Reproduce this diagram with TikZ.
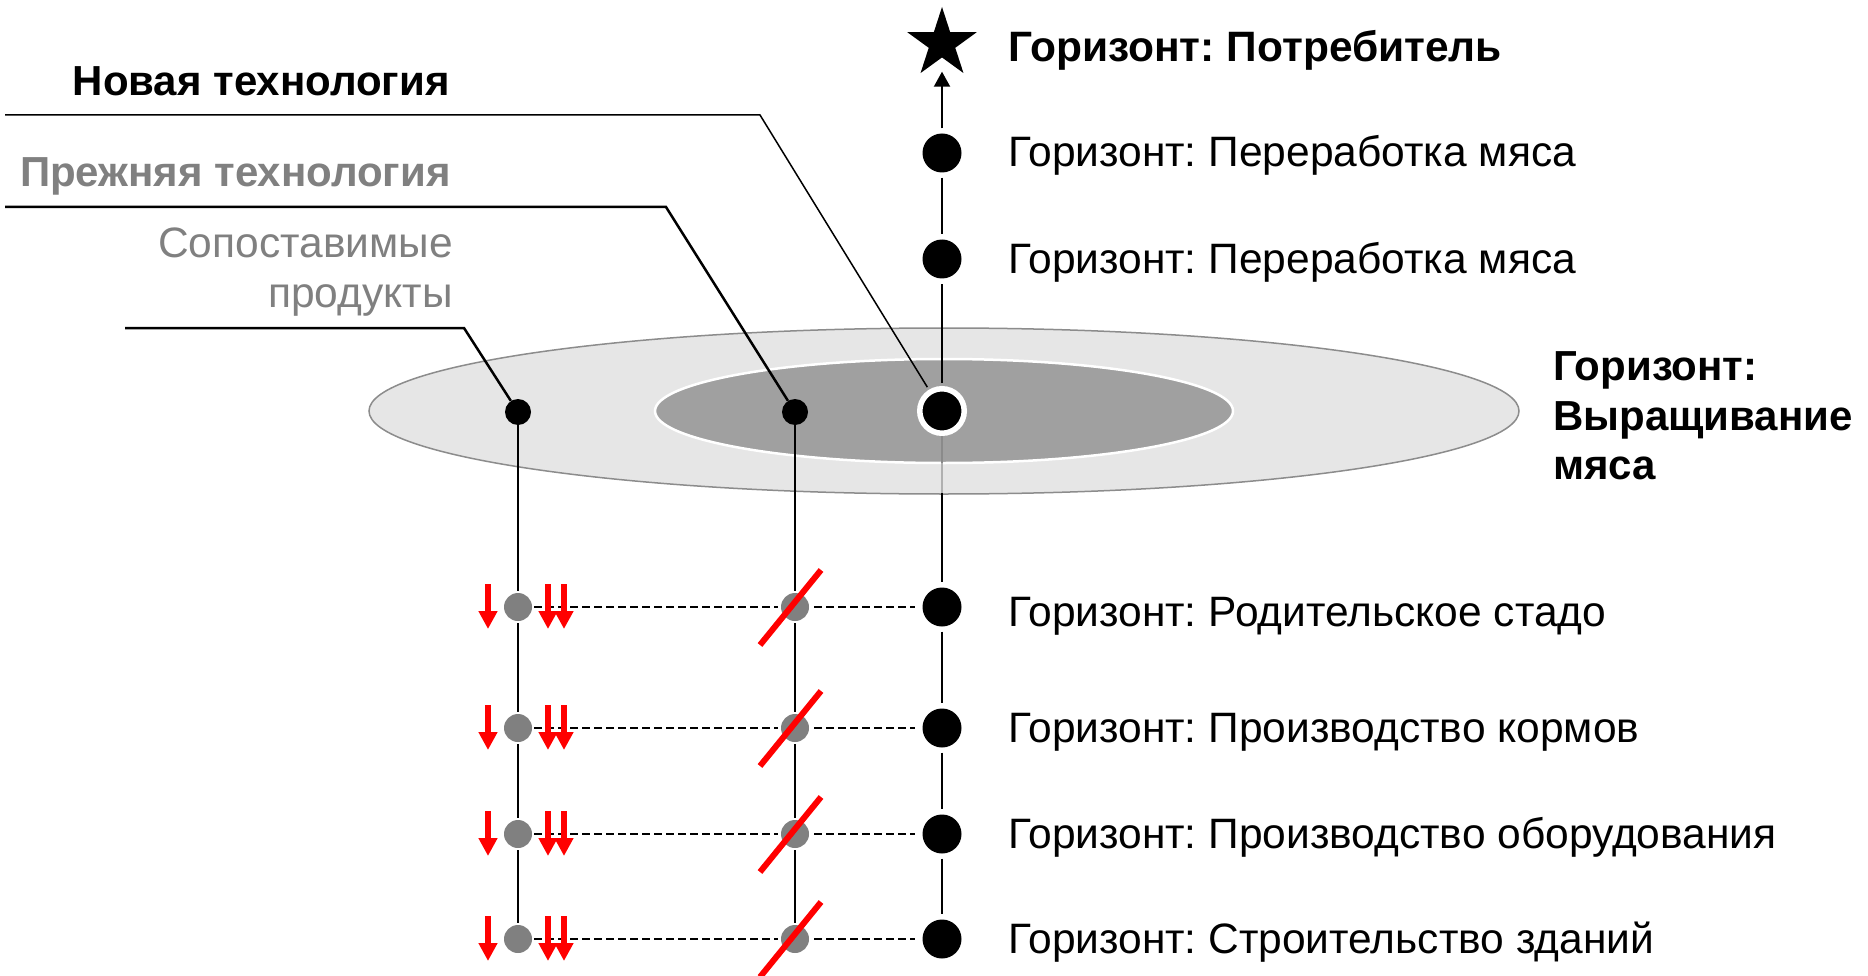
\documentclass[tikz,border=0pt]{standalone}
\usepackage{fontspec}
\setmainfont{Liberation Sans}
\usetikzlibrary{arrows.meta,shapes.geometric,calc}
\definecolor{lgray}{HTML}{E6E6E6}
\definecolor{mgray}{HTML}{A0A0A0}
\definecolor{dgray}{HTML}{808080}
\definecolor{egray}{HTML}{8C8C8C}
\definecolor{pgray}{HTML}{8A8A8A}
\definecolor{qgray}{HTML}{B0B0B0}
\frenchspacing
\begin{document}
\begin{tikzpicture}[x=1pt,y=-1pt,
  txt/.style={inner sep=0pt, font=\fontsize{42.5}{50}\selectfont},
  btxt/.style={inner sep=0pt, font=\fontsize{42}{50}\selectfont\bfseries},
  rbtxt/.style={inner sep=0pt, font=\fontsize{42.5}{50}\selectfont\bfseries},
  bdot/.style={circle, fill=black, inner sep=0pt, minimum size=39pt},
  cdot/.style={circle, fill=black, draw=white, line width=5.5pt, inner sep=0pt, minimum size=44.5pt},
  sdot/.style={circle, fill=black, inner sep=0pt, minimum size=26pt},
  gdot/.style={circle, fill=dgray, inner sep=0pt, minimum size=28pt},
  vline/.style={draw=black, line width=2pt},
  dline/.style={draw=black, line width=2pt, dash pattern=on 7.5pt off 4.5pt},
  rarrow/.style={draw=red, line width=6pt, -{Triangle[width=18pt,length=18pt]}},
  slash/.style={draw=red, line width=6pt},
  leader/.style={draw=black, line width=2.5pt}
]
\fill[white] (0,0) rectangle (1868,976);
\useasboundingbox (0,0) rectangle (1868,976);

% ellipses
\node[ellipse, fill=lgray, draw=egray, line width=1.5pt, minimum width=1150pt, minimum height=166pt, inner sep=0pt] (outer) at (944,411) {};
\node[ellipse, fill=mgray, draw=white, line width=2.5pt, minimum width=578pt, minimum height=104pt, inner sep=0pt] (inner) at (944,411) {};

% dots in ellipse
\node[cdot] (C) at (942,411) {};
\node[sdot] (P) at (795,412) {};
\node[sdot] (S) at (518,412) {};

% upper dots and star
\node[bdot] (d1) at (942,153) {};
\node[bdot] (d2) at (942,259) {};
\node[star, star points=5, star point ratio=2.618, fill=black, inner sep=0pt, minimum size=73pt] (star) at (942,43.5) {};

% rows
\foreach \i/\y in {1/607,2/728,3/834,4/939} {
  \node[gdot] (g\i) at (518,\y) {};
  \node[gdot] (m\i) at (795,\y) {};
  \node[bdot] (r\i) at (942,\y) {};
}

% leader lines
\coordinate (n1) at (5,115);
\coordinate (n2) at (760,115);
\coordinate (o1) at (5,207);
\coordinate (o2) at (666,207);
\coordinate (c1) at (125,328);
\coordinate (c2) at (464,328);
\draw[draw=black, line width=1.5pt, shorten >=3pt] (n1) -- (n2) -- (C);
\draw[leader] (o1) -- (o2) -- (P);
\draw[leader] (c1) -- (c2) -- (S);

% right column
\draw[line width=2pt, -{Triangle[width=16pt,length=15pt]}, shorten <=5pt, shorten >=14pt] (d1) -- (star);
\draw[vline, shorten <=5pt, shorten >=5pt] (d1) -- (d2);
\draw[vline, shorten <=3pt, shorten >=5pt] (C) -- (d2);
\draw[vline, shorten <=3pt, shorten >=5pt] (C) -- (r1);
\coordinate (ib) at (942,463);
\coordinate (ob) at (942,493);
\draw[draw=pgray, line width=2pt] ([yshift=-25pt]C.center) -- (ib);
\draw[draw=qgray, line width=2pt] (ib) -- (ob);
\foreach \a/\b in {1/2,2/3,3/4} {
  \draw[vline, shorten <=5pt, shorten >=5pt] (r\a) -- (r\b);
  \draw[vline, shorten <=2pt, shorten >=2pt] (g\a) -- (g\b);
  \draw[vline, shorten <=2pt, shorten >=2pt] (m\a) -- (m\b);
}
\draw[vline, shorten >=2pt] (S) -- (g1);
\draw[vline, shorten >=2pt] (P) -- (m1);

% dashed links, red marks
\foreach \i in {1,...,4} {
  \draw[dline, shorten <=2pt, shorten >=3pt] (g\i) -- (m\i);
  \draw[dline, shorten <=5pt, shorten >=7pt] (m\i) -- (r\i);
  \draw[rarrow] ($(g\i)+(-30,-23)$) -- ($(g\i)+(-30,22)$);
  \draw[rarrow] ($(g\i)+(30,-23)$) -- ($(g\i)+(30,22)$);
  \draw[rarrow] ($(g\i)+(46,-23)$) -- ($(g\i)+(46,22)$);
  \draw[slash] ($(m\i)+(-35,38)$) -- ($(m\i)+(26,-37)$);
}

% left labels
\node[btxt, anchor=base east] (newt) at (450,96) {Новая технология};
\node[btxt, anchor=base east, text=dgray] (oldt) at (451,187) {Прежняя технология};
\node[txt, anchor=base east, text=dgray] (comp1) at (453,258) {Сопоставимые};
\node[txt, anchor=base east, text=dgray] (comp2) at (453,307) {продукты};

% right labels
\node[rbtxt, anchor=base west] (t0) at (1008,62) {Горизонт: Потребитель};
\node[txt, anchor=base west] (t1) at (1008,167) {Горизонт: Переработка мяса};
\node[txt, anchor=base west] (t2) at (1008,273) {Горизонт: Переработка мяса};
\node[btxt, anchor=base west] (e1) at (1553,380) {Горизонт:};
\node[btxt, anchor=base west] (e2) at (1553,430) {Выращивание};
\node[btxt, anchor=base west] (e3) at (1553,479) {мяса};
\node[txt, anchor=base west] (b1) at (1008,626) {Горизонт: Родительское стадо};
\node[txt, anchor=base west] (b2) at (1008,742) {Горизонт: Производство кормов};
\node[txt, anchor=base west] (b3) at (1008,848) {Горизонт: Производство оборудования};
\node[txt, anchor=base west] (b4) at (1008,953) {Горизонт: Строительство зданий};
\end{tikzpicture}
\end{document}
